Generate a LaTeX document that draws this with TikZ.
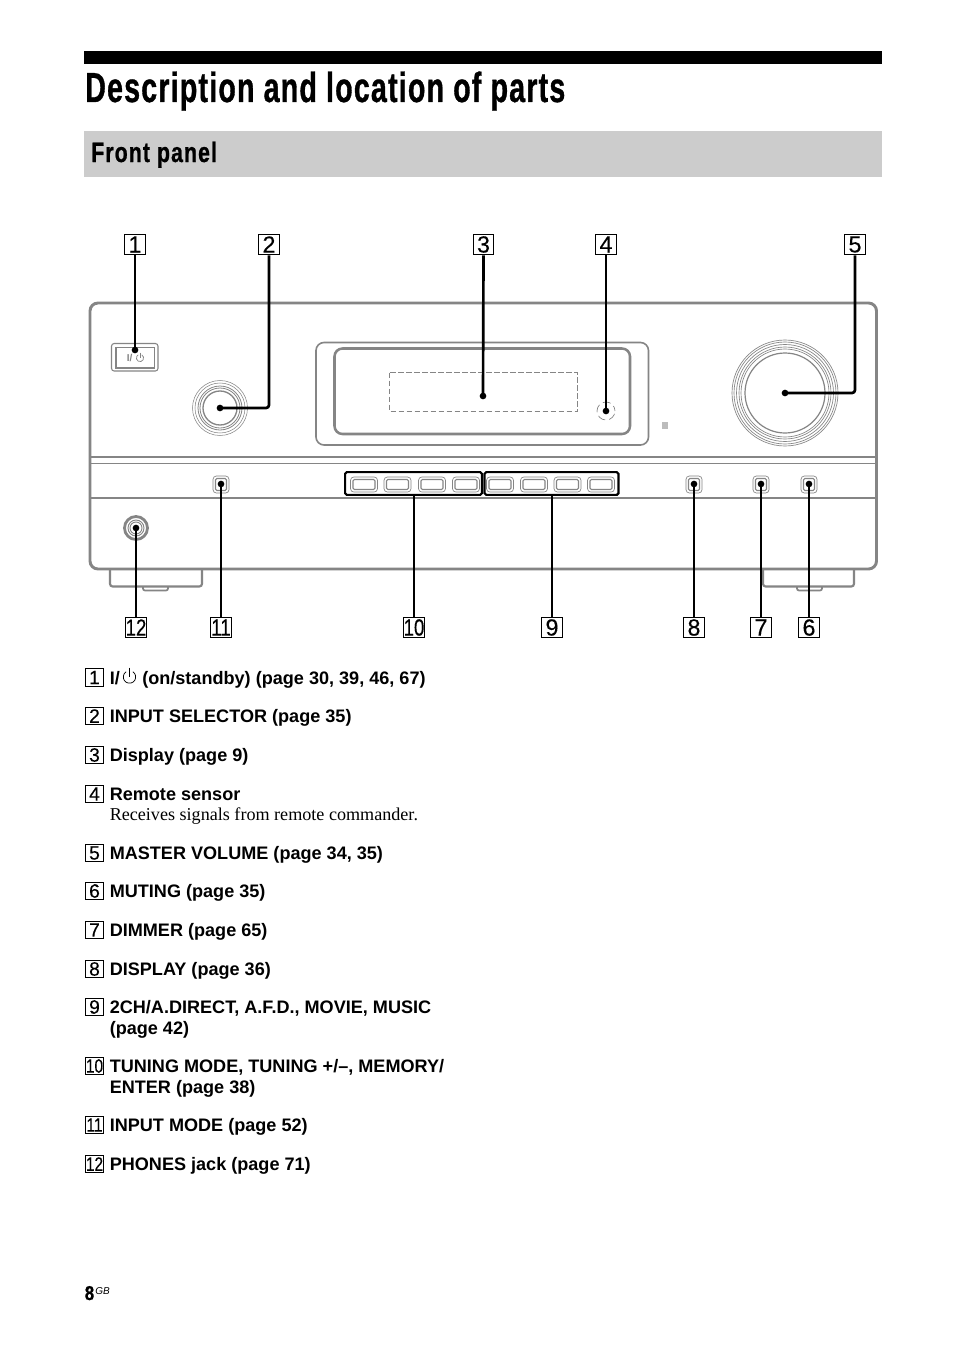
\documentclass[tikz,border=0pt]{standalone}
\usepackage{fontspec}
\setmainfont{Liberation Sans}
\newfontfamily\serifbody{Liberation Serif}
\newfontfamily\cnbold[FakeStretch=0.68,FakeBold=0.8,LetterSpace=2.9]{Liberation Sans Bold}
\newfontfamily\cnhead[FakeStretch=0.76,FakeBold=0.8,LetterSpace=3.9]{Liberation Sans Bold}
\newfontfamily\cnfolio[FakeStretch=0.85,FakeBold=0.8]{Liberation Sans Bold}
\newfontfamily\cnnum[FakeStretch=0.8,FakeBold=0.25]{Liberation Sans}
\newfontfamily\widenum[FakeBold=0.25]{Liberation Sans}
\definecolor{panelgray}{gray}{0.52}
\definecolor{bandgray}{gray}{0.80}
\tikzset{
  x=0.75pt,y=-0.75pt,
  panelline/.style={draw=panelgray,line width=1.9pt},
  thinline/.style={draw=panelgray,line width=0.8pt},
  hair/.style={draw=panelgray,line width=0.5pt},
  callbox/.style={draw=black,line width=0.95pt,minimum width=15.5pt,minimum height=15.5pt,inner sep=0pt,font=\fontsize{17.5}{17.5}\widenum\selectfont,anchor=center},
  callboxcn/.style={callbox,font=\fontsize{17.5}{17.5}\cnnum\selectfont},
  listbox/.style={draw=black,line width=0.7pt,minimum width=13pt,minimum height=13pt,inner sep=0pt,font=\fontsize{14.5}{14.5}\widenum\selectfont,anchor=center},
  listboxcn/.style={listbox,font=\fontsize{14.5}{14.5}\cnnum\selectfont},
  itemtext/.style={anchor=base west,inner sep=0pt,font=\fontsize{13.56}{16}\bfseries\selectfont},
  bodytext/.style={anchor=base west,inner sep=0pt,font=\fontsize{13.58}{16}\serifbody\selectfont},
  tdot/.style={circle,fill=black,inner sep=0pt,minimum size=5pt},
  leader/.style={draw=black,line width=2pt,rounded corners=2.2pt},
  barbox/.style={draw=black,line width=1.6pt,rounded corners=1.2pt},
  btnouter/.style={hair,rounded corners=2.5pt},
  btninner/.style={draw=panelgray,line width=0.8pt,rounded corners=1pt},
}
\begin{document}
\begin{tikzpicture}
\useasboundingbox[fill=white] (0,0) rectangle (954,1352);
% heading
\fill[black] (84,51) rectangle (882,64);
\node[anchor=base west,inner sep=0pt,font=\fontsize{31.5}{36}\cnbold\selectfont] (title) at (85,102) {Description and location of parts};
\fill[bandgray] (84,131) rectangle (882,177);
\node[anchor=base west,inner sep=0pt,font=\fontsize{21}{24}\cnhead\selectfont] (front) at (91,162) {Front panel};
% chassis
\draw[panelline,line width=1.6pt] (110,569) -- (110,583) [rounded corners=2pt] -- (110,586.5) -- (202,586.5) -- (202,569);
\draw[thinline,line width=1.3pt,rounded corners=1.5pt] (143,587) -- (143,590.5) -- (168,590.5) -- (168,587);
\draw[panelline,line width=1.6pt] (763,569) -- (763,583) [rounded corners=2pt] -- (763,586.5) -- (854,586.5) -- (854,569);
\draw[thinline,line width=1.3pt,rounded corners=1.5pt] (797,587) -- (797,590.5) -- (822,590.5) -- (822,587);
\draw[panelline,fill=white,line width=2.2pt,rounded corners=6pt] (90,303) rectangle (876.5,569);
\draw[thinline] (91,457) -- (876,457);
\draw[thinline] (91,463.5) -- (876,463.5);
\draw[panelline,line width=1.5pt] (91,498) -- (876,498);
% power button
\draw[thinline,rounded corners=2pt] (111.5,343.5) rectangle (158,371);
\draw[draw=panelgray,line width=1.3pt] (116,347.5) rectangle (154.5,368);
\node[anchor=base west,inner sep=0pt,text=panelgray,font=\fontsize{7.5}{8}\bfseries\selectfont] (pwrtxt) at (126.5,361.5) {I/};
\draw[panelgray,line width=0.55pt] (140,358) ++(60:3.6*0.75pt) arc[start angle=60,end angle=-240,radius=3.6*0.75pt];
\draw[panelgray,line width=0.55pt] (140,352.5) -- (140,358);
% input selector
\foreach \r/\w in {27.5/0.4,25/0.4,22/0.6,20/0.6,17/1.0}
  \draw[panelgray,line width=\w pt] (220,408) circle[radius=\r*0.75pt];
% display
\draw[thinline,line width=1.2pt,rounded corners=6pt] (316,342.5) rectangle (648.5,445);
\draw[panelline,line width=1.9pt,rounded corners=6pt] (334.5,348.5) rectangle (630,434);
\draw[panelgray,line width=0.5pt,dashed,dash pattern=on 4pt off 2pt] (389.5,372.5) rectangle (577.5,411.5);
\draw[panelgray,line width=0.5pt,dash pattern=on 6pt off 3pt,dash phase=2pt] (606,411) circle[radius=9*0.75pt];
\fill[panelgray!55] (661.5,422) rectangle (667.5,429);
% volume
\foreach \r/\w in {53/0.5,51/0.5,48.5/0.5,46/0.5,44/0.5,40/0.9}
  \draw[panelgray,line width=\w pt] (785,393) circle[radius=\r*0.75pt];
% phones
\draw[panelgray,line width=2.1pt] (136,528) circle[radius=11.5*0.75pt];
\foreach \r in {8,6}
  \draw[panelgray,line width=0.7pt] (136,528) circle[radius=\r*0.75pt];
% small buttons
\foreach \x in {221,694,761,809} {
  \draw[btnouter] (\x-8,476) rectangle (\x+8,493);
  \draw[btninner] (\x-5.5,478.5) rectangle (\x+5.5,490.5);
}
% wide buttons
\foreach \x in {364,397.5,432,466,500,534,567.5,601} {
  \draw[btnouter] (\x-13.5,477) rectangle (\x+13.5,492);
  \draw[btninner] (\x-11,479.5) rectangle (\x+11,489.5);
}
\node[barbox,minimum width=102.5pt,minimum height=17pt,inner sep=0pt] (bar10) at (413.5,483.5) {};
\node[barbox,minimum width=100.5pt,minimum height=17pt,inner sep=0pt] (bar9) at (551.5,483.5) {};
% callouts
\node[callbox] (c1) at (135,244.5) {1};
\node[callbox] (c2) at (269,244.5) {2};
\node[callbox] (c3) at (483.5,244.5) {3};
\node[callbox] (c4) at (606,244.5) {4};
\node[callbox] (c5) at (855,244.5) {5};
\node[callbox] (c6) at (809,627.5) {6};
\node[callbox] (c7) at (761,627.5) {7};
\node[callbox] (c8) at (694,627.5) {8};
\node[callbox] (c9) at (552,627.5) {9};
\node[callboxcn] (c10) at (414,627.5) {10};
\node[callboxcn] (c11) at (221,627.5) {11};
\node[callboxcn] (c12) at (136,627.5) {12};
% targets
\node[tdot] (d1) at (135,350) {};
\node[tdot] (d2) at (220,408) {};
\node[tdot] (d3) at (483,396) {};
\node[tdot] (d4) at (606,411) {};
\node[tdot] (d5) at (785,393) {};
\node[tdot] (d6) at (809,484) {};
\node[tdot] (d7) at (761,484) {};
\node[tdot] (d8) at (694,484) {};
\node[tdot] (d11) at (221,484) {};
\node[tdot] (d12) at (136,528) {};
\draw[leader] (c1.south) -- (d1.center);
\draw[leader] (c2.south) |- (d2.center);
\draw[leader] (c3.south) -- (d3.center);
\draw[leader] (c4.south) -- (d4.center);
\draw[leader] (c5.south) |- (d5.center);
\draw[leader] (c6.north) -- (d6.center);
\draw[leader] (c7.north) -- (d7.center);
\draw[leader] (c8.north) -- (d8.center);
\draw[leader] (c9.north) -- (bar9.south -| c9.north);
\draw[leader] (c10.north) -- (bar10.south -| c10.north);
\draw[leader] (c11.north) -- (d11.center);
\draw[leader] (c12.north) -- (d12.center);
% list
\node[listbox] (n1) at (94.5,677.5) {1};
\node[itemtext] (t1a) at (109.5,684) {I/};
\draw[black,line width=0.55pt] (129.5,677) ++(58:6.2*0.75pt) arc[start angle=58,end angle=-238,radius=6.2*0.75pt];
\draw[black,line width=0.55pt] (129.5,667.5) -- (129.5,677);
\node[itemtext] (t1b) at (142,684) {(on/standby) (page 30, 39, 46, 67)};
\node[listbox] (n2) at (94.5,716) {2};
\node[itemtext] (t2) at (109.5,722.5) {INPUT SELECTOR (page 35)};
\node[listbox] (n3) at (94.5,755) {3};
\node[itemtext] (t3) at (109.5,761.5) {Display (page 9)};
\node[listbox] (n4) at (94.5,794) {4};
\node[itemtext] (t4) at (109.5,800.5) {Remote sensor};
\node[bodytext] (t4b) at (109.5,820) {Receives signals from remote commander.};
\node[listbox] (n5) at (94.5,853) {5};
\node[itemtext] (t5) at (109.5,859) {MASTER VOLUME (page 34, 35)};
\node[listbox] (n6) at (94.5,891) {6};
\node[itemtext] (t6) at (109.5,897.5) {MUTING (page 35)};
\node[listbox] (n7) at (94.5,930) {7};
\node[itemtext] (t7) at (109.5,936.5) {DIMMER (page 65)};
\node[listbox] (n8) at (94.5,969) {8};
\node[itemtext] (t8) at (109.5,975) {DISPLAY (page 36)};
\node[listbox] (n9) at (94.5,1007) {9};
\node[itemtext] (t9) at (109.5,1013.5) {2CH/A.DIRECT, A.F.D., MOVIE, MUSIC};
\node[itemtext] (t9b) at (109.5,1034) {(page 42)};
\node[listboxcn] (n10) at (94.5,1066) {10};
\node[itemtext] (t10) at (109.5,1072) {TUNING MODE, TUNING +/–, MEMORY/};
\node[itemtext] (t10b) at (109.5,1093) {ENTER (page 38)};
\node[listboxcn] (n11) at (94.5,1125) {11};
\node[itemtext] (t11) at (109.5,1131) {INPUT MODE (page 52)};
\node[listboxcn] (n12) at (94.5,1164) {12};
\node[itemtext] (t12) at (109.5,1170) {PHONES jack (page 71)};
% folio
\node[anchor=base west,inner sep=0pt,font=\fontsize{15}{16}\cnfolio\selectfont] (folio) at (84.5,1300) {8};
\node[anchor=base west,inner sep=0pt,font=\fontsize{7.5}{8}\itshape\selectfont] (gb) at (95,1294.5) {GB};
\end{tikzpicture}
\end{document}
